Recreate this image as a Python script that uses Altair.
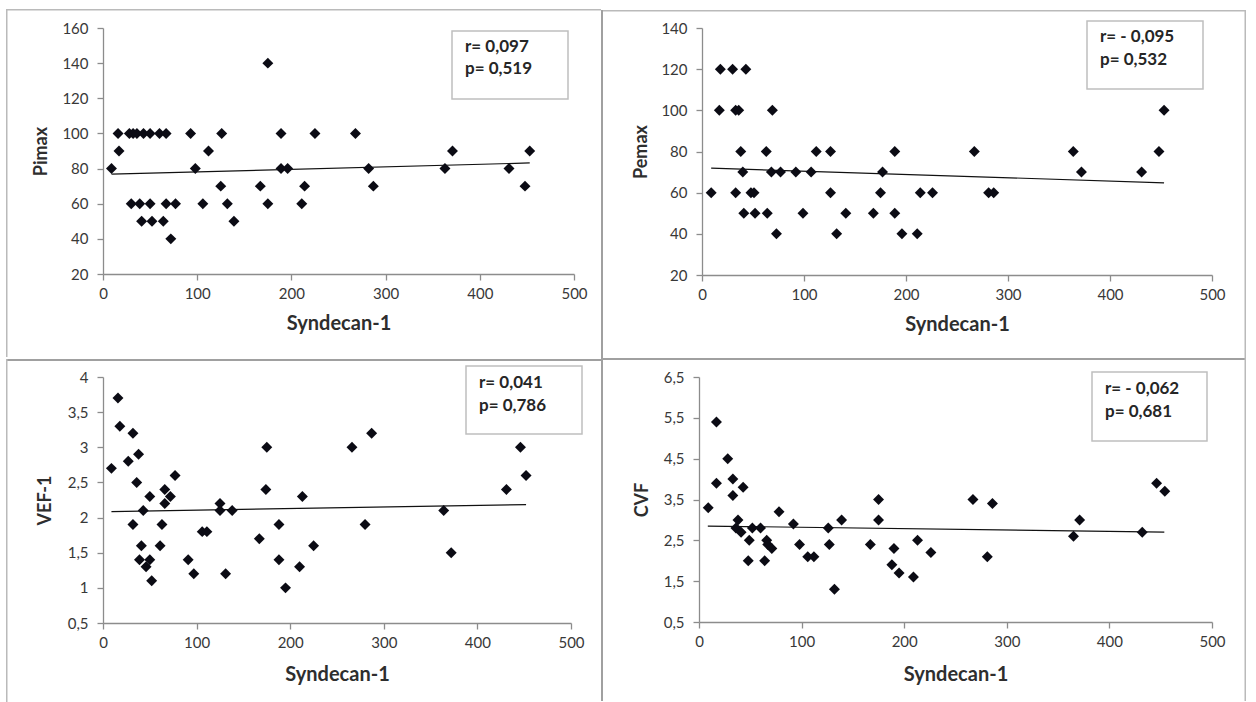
import altair as alt
import pandas as pd

# ---------------- data ----------------
x_title = "Syndecan-1"
y_titles = ["Pimax", "Pemax", "VEF-1", "CVF"]
r_labels = ["r= 0,097", "r= - 0,095", "r= 0,041", "r= - 0,062"]
p_labels = ["p= 0,519", "p=  0,532", "p= 0,786", "p= 0,681"]
x_ticks = [0, 100, 200, 300, 400, 500]

pimax_x = [16, 28, 32, 36, 43, 50, 60, 67, 93, 126, 189, 225, 268,
           17, 112, 371, 453,
           9, 98, 189, 196, 282, 363, 431,
           125, 167, 214, 287, 448,
           30, 39, 50, 67, 77, 106, 132, 175, 211,
           41, 52, 64, 139,
           72,
           175]
pimax_y = [100, 100, 100, 100, 100, 100, 100, 100, 100, 100, 100, 100, 100,
           90, 90, 90, 90,
           80, 80, 80, 80, 80, 80, 80,
           70, 70, 70, 70, 70,
           60, 60, 60, 60, 60, 60, 60, 60, 60,
           50, 50, 50, 50,
           40,
           140]
pimax_trend_x = [9, 453]
pimax_trend_y = [76.8, 83.2]
pimax_ticks = [20, 40, 60, 80, 100, 120, 140, 160]

pemax_x = [18, 30, 43,
           17, 33, 36, 69, 453,
           38, 63, 112, 126, 189, 267, 364, 448,
           40, 68, 77, 92, 107, 177, 372, 431,
           9, 33, 48, 51, 126, 175, 214, 226, 281, 286,
           41, 52, 64, 99, 141, 168, 189,
           73, 132, 196, 211]
pemax_y = [120, 120, 120,
           100, 100, 100, 100, 100,
           80, 80, 80, 80, 80, 80, 80, 80,
           70, 70, 70, 70, 70, 70, 70, 70,
           60, 60, 60, 60, 60, 60, 60, 60, 60, 60,
           50, 50, 50, 50, 50, 50, 50,
           40, 40, 40, 40]
pemax_trend_x = [9, 453]
pemax_trend_y = [71.9, 64.8]
pemax_ticks = [20, 40, 60, 80, 100, 120, 140]

vef_x = [16, 18, 32, 38, 27, 9, 77, 36, 66, 72, 50, 66, 43, 32, 63, 41, 61,
         39, 50, 46, 52, 91, 97, 106, 111, 125, 125, 138, 131, 167, 175, 174,
         188, 188, 195, 210, 213, 225, 266, 287, 280, 364, 372, 431, 446, 452]
vef_y = [3.7, 3.3, 3.2, 2.9, 2.8, 2.7, 2.6, 2.5, 2.4, 2.3, 2.3, 2.2, 2.1, 1.9,
         1.9, 1.6, 1.6, 1.4, 1.4, 1.3, 1.1, 1.4, 1.2, 1.8, 1.8, 2.2, 2.1, 2.1,
         1.2, 1.7, 3.0, 2.4, 1.9, 1.4, 1.0, 1.3, 2.3, 1.6, 3.0, 3.2, 1.9, 2.1,
         1.5, 2.4, 3.0, 2.6]
vef_trend_x = [9, 452]
vef_trend_y = [2.086, 2.185]
vef_ticks = [0.5, 1, 1.5, 2, 2.5, 3, 3.5, 4]

cvf_x = [17, 28, 17, 33, 43, 33, 9, 38, 36, 41, 52, 60, 49, 48, 64, 66, 67,
         71, 78, 92, 98, 106, 112, 126, 127, 132, 139, 167, 175, 175, 190, 188,
         195, 209, 213, 226, 267, 286, 281, 365, 371, 432, 446, 454]
cvf_y = [5.4, 4.5, 3.9, 4.0, 3.8, 3.6, 3.3, 3.0, 2.8, 2.7, 2.8, 2.8, 2.5, 2.0,
         2.0, 2.5, 2.4, 2.3, 3.2, 2.9, 2.4, 2.1, 2.1, 2.8, 2.4, 1.3, 3.0, 2.4,
         3.5, 3.0, 2.3, 1.9, 1.7, 1.6, 2.5, 2.2, 3.5, 3.4, 2.1, 2.6, 3.0, 2.7,
         3.9, 3.7]
cvf_trend_x = [8.6, 453.5]
cvf_trend_y = [2.85, 2.70]
cvf_ticks = [0.5, 1.5, 2.5, 3.5, 4.5, 5.5, 6.5]

FONT = "Lato"
SEP = "#a0a0a0"
OUTER = "#bababa"


def one():
    return alt.Data(values=[{"k": 0}])


def band(x1, x2, y1, y2, color):
    # thin filled rectangle used as a border line (exact layout bounds)
    return alt.Chart(one()).mark_rect(fill=color).encode(
        x=alt.value(x1), x2=alt.value(x2), y=alt.value(y1), y2=alt.value(y2))


def panel(xs, ys, tx, ty, ydom, yticks, ytitle, W, H, cell, lines, box,
          text_x, text_y, r_text, p_text, ytitle_x, xtitle_y):
    l, r, t, b = cell
    xscale = alt.Scale(domain=[0, 500], nice=False, zero=False)
    yscale = alt.Scale(domain=ydom, nice=False, zero=False)
    xaxis = alt.Axis(values=x_ticks, title=x_title, titleX=W / 2, titleY=xtitle_y,
                     titleBaseline="middle", titleAlign="center", titleFontSize=20,
                     tickSize=6, labelPadding=6)
    yaxis = alt.Axis(values=yticks, title=ytitle, titleX=ytitle_x, titleY=H / 2,
                     titleAngle=270, titleBaseline="middle", titleAlign="center",
                     titleFontSize=18, tickSize=6, labelPadding=9,
                     labelExpr="replace(format(datum.value, '~g'), '.', ',')")

    # invisible cell background: defines the cell's bounds for the concat layout
    bg = alt.Chart(one()).mark_rect(fill="white", fillOpacity=0).encode(
        x=alt.value(l), x2=alt.value(r), y=alt.value(t), y2=alt.value(b))

    layers = [bg]
    for kind, color, w in lines:
        if kind == "top":
            layers.append(band(l, r, t, t + w, color))
        elif kind == "left":
            layers.append(band(l, l + w, t, b, color))
        elif kind == "right":
            layers.append(band(r - w, r, t, b, color))

    bx1, bx2, by1, by2 = box
    frame = alt.Chart(one()).mark_rect(fill="white", stroke="#bfbfbf", strokeWidth=1.5).encode(
        x=alt.value(bx1), x2=alt.value(bx2), y=alt.value(by1), y2=alt.value(by2))
    t1 = alt.Chart(one()).mark_text(text=r_text, align="left", baseline="middle",
                                    font=FONT, fontSize=17, fontWeight="bold",
                                    color="#262626").encode(
        x=alt.value(text_x), y=alt.value(text_y[0]))
    t2 = alt.Chart(one()).mark_text(text=p_text, align="left", baseline="middle",
                                    font=FONT, fontSize=17, fontWeight="bold",
                                    color="#262626").encode(
        x=alt.value(text_x), y=alt.value(text_y[1]))

    trend = alt.Chart(pd.DataFrame({"x": tx, "y": ty})).mark_line(
        color="#111111", strokeWidth=1.2).encode(
        x=alt.X("x:Q", scale=xscale, axis=xaxis),
        y=alt.Y("y:Q", scale=yscale, axis=yaxis))
    pts = alt.Chart(pd.DataFrame({"x": xs, "y": ys})).mark_point(
        shape="diamond", filled=True, size=120, color="#0b0b14", opacity=1).encode(
        x=alt.X("x:Q", scale=xscale, axis=xaxis),
        y=alt.Y("y:Q", scale=yscale, axis=yaxis))

    layers += [frame, t1, t2, trend, pts]
    return alt.layer(*layers).properties(width=W, height=H)


tl = panel(pimax_x, pimax_y, pimax_trend_x, pimax_trend_y, [20, 160], pimax_ticks,
           y_titles[0], 471, 246, (-97, 498, -19, 329),
           [("top", OUTER, 1.5), ("left", OUTER, 1.5)],
           (349, 465, 3, 71), 362, (19, 41), r_labels[0], p_labels[0], -62, 49)
tr = panel(pemax_x, pemax_y, pemax_trend_x, pemax_trend_y, [20, 140], pemax_ticks,
           y_titles[1], 510, 247, (-101, 544, -18, 330),
           [("top", OUTER, 1.5), ("left", SEP, 2), ("right", OUTER, 1.5)],
           (385, 501, -7, 61), 398, (9, 32), r_labels[1], p_labels[1], -61, 49)
bl = panel(vef_x, vef_y, vef_trend_x, vef_trend_y, [0.5, 4], vef_ticks,
           y_titles[2], 468, 246, (-97, 498, -18, 325),
           [("top", SEP, 2), ("left", OUTER, 1.5)],
           (363, 479, -11, 57), 376, (6, 29), r_labels[2], p_labels[2], -58, 51)
br = panel(cvf_x, cvf_y, cvf_trend_x, cvf_trend_y, [0.5, 6.5], cvf_ticks,
           y_titles[3], 513, 245, (-98, 547, -19, 324),
           [("top", SEP, 2), ("left", SEP, 2), ("right", OUTER, 1.5)],
           (393, 508, -5, 64), 406, (12, 35), r_labels[3], p_labels[3], -57, 52)

chart = alt.vconcat(
    alt.hconcat(tl, tr, spacing=0),
    alt.hconcat(bl, br, spacing=0),
    spacing=0,
).properties(
    padding={"left": 6, "top": 9, "right": 0, "bottom": 0}
).configure_view(
    strokeWidth=0
).configure_axis(
    grid=False,
    domainColor="#8c8c8c", tickColor="#8c8c8c", domainWidth=1.3, tickWidth=1.3,
    labelFont=FONT, labelFontSize=15, labelColor="#383838",
    labelFlush=False, labelOverlap=False,
    titleFont=FONT, titleColor="#2e2e2e", titleFontWeight="bold",
).configure_concat(spacing=0)

chart.save("out.html", embed_options={"renderer": "svg", "actions": False})
